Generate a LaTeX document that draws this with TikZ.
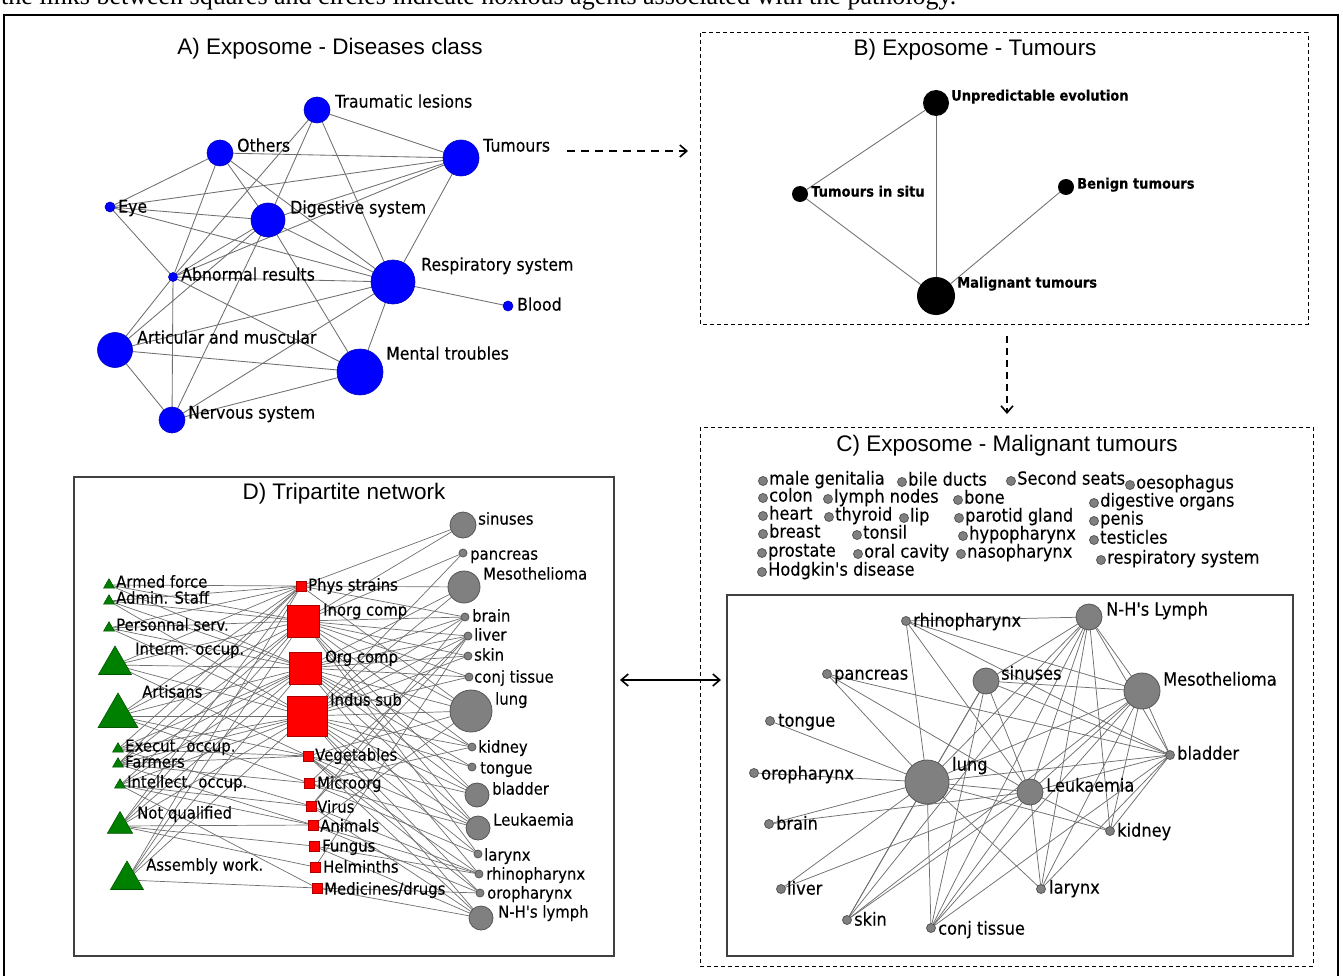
\documentclass[tikz,border=0pt]{standalone}
\usepackage{fontspec}
\setmainfont{Liberation Sans}
\newfontfamily\labfont[FakeStretch=0.9,FakeBold=0.25]{DejaVu Sans}
\newfontfamily\capfont{Liberation Serif}
\usetikzlibrary{shapes.geometric,arrows.meta,backgrounds}
\definecolor{nblue}{RGB}{0,0,255}
\definecolor{nblued}{RGB}{0,0,190}
\definecolor{ngray}{RGB}{128,128,128}
\definecolor{ngrayd}{RGB}{85,85,85}
\definecolor{nred}{RGB}{255,0,0}
\definecolor{nredd}{RGB}{170,0,0}
\definecolor{ngreen}{RGB}{0,128,0}
\definecolor{ngreend}{RGB}{0,85,0}
\definecolor{edgec}{RGB}{110,110,110}
\tikzset{
 an/.style={circle, fill=nblue, draw=nblued, line width=0.6pt, inner sep=0pt, outer sep=0pt, minimum size=#1},
 bn/.style={circle, fill=black, inner sep=0pt, outer sep=0pt, minimum size=#1},
 gn/.style={circle, fill=ngray, draw=ngrayd, line width=0.8pt, inner sep=0pt, outer sep=0pt, minimum size=#1},
 rs/.style={rectangle, fill=nred, draw=nredd, line width=0.6pt, inner sep=0pt, outer sep=0pt, minimum size=#1},
 gt/.style={regular polygon, regular polygon sides=3, fill=ngreen, draw=ngreend, line width=0.6pt, inner sep=0pt, outer sep=0pt, minimum size=#1},
 alab/.style={anchor=west, inner sep=0pt, text height=0.76em, text depth=0.24em, font=\labfont\fontsize{17.5}{18}\selectfont},
 dlab/.style={anchor=west, inner sep=0pt, text height=0.76em, text depth=0.24em, font=\labfont\fontsize{16.5}{17}\selectfont},
 clab/.style={anchor=west, inner sep=0pt, text height=0.76em, text depth=0.24em, font=\labfont\fontsize{18}{18}\selectfont},
 blab/.style={anchor=west, inner sep=0pt, text height=0.76em, text depth=0.24em, font=\labfont\bfseries\fontsize{14.5}{15}\selectfont},
 ttl/.style={inner sep=0pt, text height=0.72em, text depth=0.2em, font=\fontsize{22.5}{24}\selectfont},
 edge/.style={draw=edgec, line width=0.85pt},
 dbox/.style={draw=black, line width=1pt, dash pattern=on 4pt off 3pt},
 sbox/.style={draw=black!75, line width=1.8pt},
 bigarrow/.style={line width=2pt, dash pattern=on 8pt off 6pt, -{Straight Barb[length=7pt,width=12pt,line width=1.6pt]}},
 duoarrow/.style={line width=1.8pt, {Straight Barb[length=7pt,width=12pt,line width=1.6pt]}-{Straight Barb[length=7pt,width=12pt,line width=1.6pt]}},
}
\begin{document}
\begin{tikzpicture}[x=1pt,y=-1pt]
\useasboundingbox (0,0) rectangle (1343,976);
\clip (0,0) rectangle (1343,976);

% caption (cut at the top)
\node[anchor=base west, inner sep=0pt, font=\capfont\fontsize{26}{26}\selectfont] (cap) at (1,5) {the links between squares and circles indicate noxious agents associated with the pathology.};
% outer frame
\draw[line width=2pt] (4,990) -- (4,15) -- (1338,15) -- (1338,990);

% ---------------- Panel A ----------------
\node[ttl] (tA) at (330,52) {A) Exposome - Diseases class};
\node[an=26] (T) at (317,110) {};
\node[an=26] (O) at (220,153) {};
\node[an=36] (U) at (461,158) {};
\node[an=10] (E) at (110,207) {};
\node[an=34] (G) at (268,220) {};
\node[an=9] (Ab) at (173,277) {};
\node[an=44] (R) at (393,282) {};
\node[an=10] (Bl) at (508,306) {};
\node[an=35] (Ar) at (115,350) {};
\node[an=46] (M) at (360,372) {};
\node[an=26] (N) at (172,420) {};
\node[alab] (lT) at (335,105) {Traumatic lesions};
\node[alab] (lO) at (237,149) {Others};
\node[alab] (lU) at (483,149) {Tumours};
\node[alab] (lE) at (118,210) {Eye};
\node[alab] (lG) at (290,211) {Digestive system};
\node[alab] (lAb) at (181,278) {Abnormal results};
\node[alab] (lR) at (421,268) {Respiratory system};
\node[alab] (lBl) at (517,308) {Blood};
\node[alab] (lAr) at (137,341) {Articular and muscular};
\node[alab] (lM) at (386,357) {Mental troubles};
\node[alab] (lN) at (188,416) {Nervous system};
\begin{scope}[on background layer]
\foreach \a/\b in {T/U,T/G,T/Ab,T/R,O/U,O/E,O/Ab,O/G,O/R,E/U,E/G,E/R,E/Ab,U/R,U/G,U/Ab,G/R,G/Ab,G/Ar,G/N,G/M,Ab/R,Ab/Ar,Ab/N,Ab/M,R/Bl,R/M,R/Ar,R/N,Ar/M,Ar/N,M/N}
  \draw[edge] (\a) -- (\b);
\end{scope}

% arrow A -> B
\coordinate (abS) at (567,151);
\coordinate (abE) at (688,151);
\draw[bigarrow] (abS) -- (abE);

% ---------------- Panel B ----------------
\draw[dbox] (700,33) rectangle (1308,324);
\node[ttl] (tB) at (975,53) {B) Exposome - Tumours};
\node[bn=26] (bU) at (936,103) {};
\node[bn=16] (bS) at (800,194) {};
\node[bn=16] (bB) at (1066,187) {};
\node[bn=38] (bM) at (936,296) {};
\node[blab] (lbU) at (951,98) {Unpredictable evolution};
\node[blab] (lbS) at (811,194) {Tumours in situ};
\node[blab] (lbB) at (1077,186) {Benign tumours};
\node[blab] (lbM) at (957,285) {Malignant tumours};
\begin{scope}[on background layer]
\foreach \a/\b in {bU/bS,bU/bM,bS/bM,bB/bM}
  \draw[edge] (\a) -- (\b);
\end{scope}

% arrow B -> C
\coordinate (bcS) at (1007,336);
\coordinate (bcE) at (1007,414);
\draw[bigarrow, dash pattern=on 7pt off 5pt] (bcS) -- (bcE);

% ---------------- Panel C ----------------
\draw[dbox] (700,427) rectangle (1313,966);
\node[ttl] (tC) at (1007,449) {C) Exposome - Malignant tumours};
\foreach \n/\x/\y/\t in {
  1/763/481/male genitalia, 2/902/482/bile ducts, 3/1011/481/Second seats, 4/1130/485/oesophagus,
  5/763/498/colon, 6/828/499/lymph nodes, 7/958/500/bone, 8/1094/503/digestive organs,
  9/763/516/heart, 10/829/517/thyroid, 11/904/518/lip, 12/959/518/parotid gland, 13/1094/521/penis,
  14/763/534/breast, 15/857/535/tonsil, 16/963/536/hypopharynx, 17/1094/540/testicles,
  18/762/553/prostate, 19/858/554/oral cavity, 20/961/554/nasopharynx, 21/1101/560/respiratory system,
  22/762/572/Hodgkin's disease}
{
  \node[gn=9] (cd\n) at (\x,\y) {};
  \node[clab] (ct\n) at (\x+6,\y+1) {\t};
}
\draw[sbox] (727,595) rectangle (1293,956);
\node[gn=9] (cRh) at (906,621) {};
\node[gn=26] (cNH) at (1089,617) {};
\node[gn=9] (cPa) at (827,674) {};
\node[gn=26] (cSi) at (986,681) {};
\node[gn=36] (cMe) at (1142,691) {};
\node[gn=9] (cTo) at (770,721) {};
\node[gn=9] (cBl) at (1170,755) {};
\node[gn=9] (cOr) at (754,773) {};
\node[gn=44] (cLu) at (927,782) {};
\node[gn=26] (cLe) at (1030,792) {};
\node[gn=9] (cBr) at (769,824) {};
\node[gn=9] (cKi) at (1110,831) {};
\node[gn=9] (cLi) at (781,889) {};
\node[gn=9] (cLa) at (1041,889) {};
\node[gn=9] (cSk) at (847,920) {};
\node[gn=9] (cCo) at (931,928) {};
\node[clab] (lcRh) at (913,624) {rhinopharynx};
\node[clab] (lcNH) at (1106,613) {N-H's Lymph};
\node[clab] (lcPa) at (834,677) {pancreas};
\node[clab] (lcSi) at (1001,677) {sinuses};
\node[clab] (lcMe) at (1163,683) {Mesothelioma};
\node[clab] (lcTo) at (778,724) {tongue};
\node[clab] (lcBl) at (1177,757) {bladder};
\node[clab] (lcOr) at (761,777) {oropharynx};
\node[clab] (lcLu) at (952,768) {lung};
\node[clab] (lcLe) at (1046,789) {Leukaemia};
\node[clab] (lcBr) at (776,827) {brain};
\node[clab] (lcKi) at (1117,834) {kidney};
\node[clab] (lcLi) at (787,892) {liver};
\node[clab] (lcLa) at (1049,891) {larynx};
\node[clab] (lcSk) at (854,923) {skin};
\node[clab] (lcCo) at (938,932) {conj tissue};
\begin{scope}[on background layer]
\foreach \a/\b in {cRh/cNH,cRh/cLu,cRh/cLe,cRh/cMe,cRh/cBl,cPa/cLu,cPa/cLe,cPa/cBl,
  cTo/cLu,cOr/cLu,cBr/cLu,cBr/cLe,cLi/cLu,cLi/cLe,
  cSk/cLu,cSk/cLe,cSk/cNH,cSk/cSi,cSk/cMe,
  cCo/cLu,cCo/cLe,cCo/cNH,cCo/cMe,cCo/cBl,cCo/cSi,
  cLa/cLu,cLa/cLe,cLa/cNH,cLa/cMe,cLa/cBl,
  cKi/cLu,cKi/cLe,cKi/cMe,cKi/cNH,cKi/cBl,
  cSi/cLu,cSi/cLe,cSi/cBl,cSi/cNH,cSi/cMe,
  cNH/cMe,cNH/cBl,cNH/cLu,cNH/cLe,cMe/cBl,cMe/cLu,cMe/cLe,cLu/cLe,cLu/cBl,cLe/cBl}
  \draw[edge, line width=0.75pt] (\a) -- (\b);
\end{scope}

% arrow D <-> C
\coordinate (dcS) at (620,680);
\coordinate (dcE) at (721,680);
\draw[duoarrow] (dcS) -- (dcE);

% ---------------- Panel D ----------------
\draw[sbox] (74,477) rectangle (614,956);
\node[ttl] (tD) at (344,497) {D) Tripartite network};
% occupations
\node[gt=12.5] (tA1) at (109,585) {};
\node[gt=12.5] (tB1) at (109,601) {};
\node[gt=12.5] (tC1) at (109,628) {};
\node[gt=38] (tD1) at (115,665) {};
\node[gt=46] (tE1) at (118,716) {};
\node[gt=12.5] (tF1) at (118,749) {};
\node[gt=12.5] (tG1) at (118,764) {};
\node[gt=12.5] (tH1) at (120,785) {};
\node[gt=29] (tI1) at (120,826) {};
\node[gt=38] (tJ1) at (127,880) {};
\node[dlab] (ltA) at (116,585) {Armed force};
\node[dlab] (ltB) at (116,601) {Admin. Staff};
\node[dlab] (ltC) at (116,628) {Personnal serv.};
\node[dlab] (ltD) at (135,652) {Interm. occup.};
\node[dlab] (ltE) at (142,695) {Artisans};
\node[dlab] (ltF) at (125,749) {Execut. occup.};
\node[dlab] (ltG) at (125,765) {Farmers};
\node[dlab] (ltH) at (127,785) {Intellect. occup.};
\node[dlab] (ltI) at (137,816) {Not qualified};
\node[dlab] (ltJ) at (146,868) {Assembly work.};
% agents
\node[rs=10] (sPh) at (301,586) {};
\node[rs=32] (sIn) at (303,621) {};
\node[rs=32] (sOr) at (305,668) {};
\node[rs=40] (sId) at (307,716) {};
\node[rs=10] (sVe) at (308,756) {};
\node[rs=10] (sMi) at (309,783) {};
\node[rs=10] (sVi) at (311,806) {};
\node[rs=10] (sAn) at (313,825) {};
\node[rs=10] (sFu) at (314,846) {};
\node[rs=10] (sHe) at (315,867) {};
\node[rs=10] (sMe) at (317,888) {};
\node[dlab] (lsPh) at (308,588) {Phys strains};
\node[dlab] (lsIn) at (323,613) {Inorg comp};
\node[dlab] (lsOr) at (325,660) {Org comp};
\node[dlab] (lsId) at (330,703) {Indus sub};
\node[dlab] (lsVe) at (315,758) {Vegetables};
\node[dlab] (lsMi) at (317,786) {Microorg};
\node[dlab] (lsVi) at (317,810) {Virus};
\node[dlab] (lsAn) at (320,829) {Animals};
\node[dlab] (lsFu) at (322,849) {Fungus};
\node[dlab] (lsHe) at (323,870) {Helminths};
\node[dlab] (lsMe) at (324,892) {Medicines/drugs};
% diseases
\node[gn=26] (dSi) at (463,525) {};
\node[gn=8] (dPa) at (463,553) {};
\node[gn=32] (dMe) at (464,587) {};
\node[gn=8] (dBr) at (465,617) {};
\node[gn=8] (dLi) at (468,636) {};
\node[gn=8] (dSk) at (468,656) {};
\node[gn=8] (dCo) at (469,677) {};
\node[gn=42] (dLu) at (471,711) {};
\node[gn=8] (dKi) at (472,747) {};
\node[gn=8] (dTo) at (472,767) {};
\node[gn=24] (dBl) at (477,795) {};
\node[gn=24] (dLe) at (478,828) {};
\node[gn=8] (dLa) at (478,854) {};
\node[gn=8] (dRh) at (479,874) {};
\node[gn=8] (dOr) at (480,893) {};
\node[gn=24] (dNH) at (481,918) {};
\node[dlab] (ldSi) at (478,522) {sinuses};
\node[dlab] (ldPa) at (470,557) {pancreas};
\node[dlab] (ldMe) at (483,577) {Mesothelioma};
\node[dlab] (ldBr) at (472,619) {brain};
\node[dlab] (ldLi) at (474,638) {liver};
\node[dlab] (ldSk) at (474,658) {skin};
\node[dlab] (ldCo) at (474,680) {conj tissue};
\node[dlab] (ldLu) at (495,702) {lung};
\node[dlab] (ldKi) at (478,750) {kidney};
\node[dlab] (ldTo) at (480,771) {tongue};
\node[dlab] (ldBl) at (492,792) {bladder};
\node[dlab] (ldLe) at (493,823) {Leukaemia};
\node[dlab] (ldLa) at (484,858) {larynx};
\node[dlab] (ldRh) at (486,877) {rhinopharynx};
\node[dlab] (ldOr) at (487,896) {oropharynx};
\node[dlab] (ldNH) at (498,915) {N-H's lymph};
\begin{scope}[on background layer]
\foreach \a/\b in {tA1/sPh,tA1/sIn,tA1/sOr,
  tB1/sPh,tB1/sIn,tB1/sOr,tB1/sId,
  tC1/sPh,tC1/sIn,tC1/sOr,tC1/sId,
  tD1/sPh,tD1/sIn,tD1/sOr,tD1/sId,tD1/sVe,
  tE1/sPh,tE1/sIn,tE1/sOr,tE1/sId,tE1/sVe,tE1/sMi,
  tF1/sPh,tF1/sOr,tF1/sId,tF1/sVe,tF1/sVi,
  tG1/sPh,tG1/sIn,tG1/sOr,tG1/sId,tG1/sVe,tG1/sMi,tG1/sAn,
  tH1/sIn,tH1/sOr,tH1/sId,tH1/sVi,tH1/sAn,tH1/sMe,
  tI1/sPh,tI1/sIn,tI1/sOr,tI1/sId,tI1/sAn,tI1/sFu,tI1/sHe,
  tJ1/sPh,tJ1/sIn,tJ1/sOr,tJ1/sId,tJ1/sMe}
  \draw[edge, line width=0.7pt] (\a) -- (\b);
\foreach \a/\b in {sPh/dMe,sPh/dSi,sPh/dLu,sPh/dBr,
  sIn/dSi,sIn/dPa,sIn/dBr,sIn/dLi,sIn/dSk,sIn/dCo,sIn/dLu,sIn/dKi,sIn/dBl,sIn/dLe,sIn/dLa,
  sOr/dMe,sOr/dBr,sOr/dLi,sOr/dSk,sOr/dCo,sOr/dLu,sOr/dKi,sOr/dTo,sOr/dBl,sOr/dLe,sOr/dRh,
  sId/dPa,sId/dMe,sId/dBr,sId/dLi,sId/dSk,sId/dCo,sId/dLu,sId/dKi,sId/dTo,sId/dBl,sId/dLe,sId/dLa,sId/dOr,sId/dNH,
  sVe/dLu,sVe/dBl,sVe/dLe,sVe/dRh,sVe/dOr,sVe/dNH,
  sMi/dLi,sMi/dKi,sMi/dLe,sMi/dLa,
  sVi/dBr,sVi/dLi,sVi/dNH,sVi/dRh,
  sAn/dLu,sAn/dRh,sAn/dOr,
  sFu/dRh,sFu/dNH,sHe/dLi,sMe/dNH,sMe/dOr}
  \draw[edge, line width=0.7pt] (\a) -- (\b);
\end{scope}
\end{tikzpicture}
\end{document}
